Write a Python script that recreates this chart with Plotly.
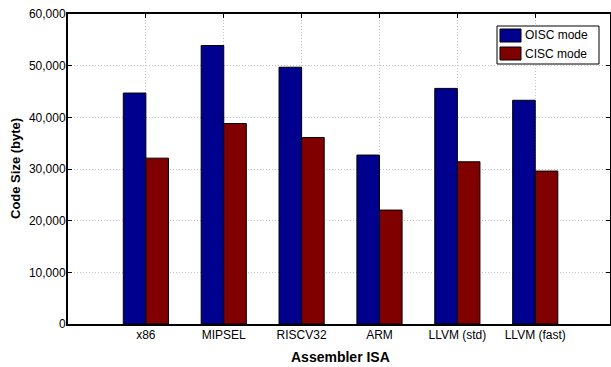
import plotly.graph_objects as go

categories = ["x86", "MIPSEL", "RISCV32", "ARM", "LLVM (std)", "LLVM (fast)"]
oisc_values = [44700, 53900, 49700, 32700, 45600, 43300]
cisc_values = [32100, 38800, 36100, 22050, 31400, 29600]
series_names = ["OISC mode", "CISC mode"]
series_colors = ["#00008F", "#800000"]
y_tick_values = [0, 10000, 20000, 30000, 40000, 50000, 60000]
x_title = "Assembler ISA"
y_title = "Code Size (byte)"

x_pos = list(range(len(categories)))

fig = go.Figure()
for vals, name, col in zip([oisc_values, cisc_values], series_names, series_colors):
    fig.add_trace(go.Bar(x=x_pos, y=vals, name=name, showlegend=False, hoverinfo="skip",
                         marker=dict(color=col, line=dict(color="black", width=1))))

font_family = "Liberation Sans"

W, H = 611, 367
L, R = 68, 610
T, B = 14, 324
def px(x):
    return (x - L) / (R - L)
def py(y):
    return (B - y) / (B - T)

# manual legend (box with wide swatches, like the reference)
fig.add_shape(type="rect", xref="paper", yref="paper",
              x0=px(497), x1=px(599), y0=py(64), y1=py(26),
              line=dict(color="black", width=1), fillcolor="white", layer="above")
for i, (name, col) in enumerate(zip(series_names, series_colors)):
    top = 29 + i * 18
    fig.add_shape(type="rect", xref="paper", yref="paper",
                  x0=px(500), x1=px(521), y0=py(top + 13), y1=py(top),
                  line=dict(color="black", width=1), fillcolor=col, layer="above")
    fig.add_annotation(xref="paper", yref="paper", x=px(523), y=py(top + 6.5),
                       xanchor="left", yanchor="middle", text=name, showarrow=False,
                       font=dict(size=12, color="black", family=font_family))

# axis titles as annotations
fig.add_annotation(xref="paper", yref="paper", x=px(340), y=py(357),
                   xanchor="center", yanchor="middle", text="<b>" + x_title + "</b>",
                   showarrow=False, font=dict(size=14, color="black", family=font_family))
fig.add_annotation(xref="paper", yref="paper", x=px(15), y=py(169),
                   xanchor="center", yanchor="middle", text="<b>" + y_title + "</b>",
                   textangle=-90, showarrow=False,
                   font=dict(size=13, color="black", family=font_family))

fig.update_layout(
    width=W, height=H,
    margin=dict(l=L, r=W - R, t=T, b=H - B, autoexpand=False),
    paper_bgcolor="white", plot_bgcolor="white",
    barmode="group", bargap=0.42, bargroupgap=0,
    font=dict(family=font_family, size=12, color="black"),
    showlegend=False, hovermode=False,
    xaxis=dict(
        range=[-1, 5.96], tickmode="array", tickvals=x_pos, ticktext=categories,
        showline=True, linecolor="black", linewidth=2, mirror="ticks",
        ticks="inside", ticklen=4, tickcolor="black",
        showgrid=True, gridcolor="#C4C4C4", griddash="1px,2px", gridwidth=1,
        zeroline=False, automargin=False, ticklabelstandoff=-1,
    ),
    yaxis=dict(
        range=[0, 60000], tickmode="array", tickvals=y_tick_values, tickformat=",d",
        showline=True, linecolor="black", linewidth=2, mirror="ticks",
        ticks="inside", ticklen=4, tickcolor="black",
        showgrid=True, gridcolor="#C4C4C4", griddash="1px,2px", gridwidth=1,
        zeroline=False, automargin=False, ticklabelstandoff=-2,
    ),
)

fig.write_html("out.html", config={"displayModeBar": False, "staticPlot": True},
               post_script="document.body.style.margin='0px';")
